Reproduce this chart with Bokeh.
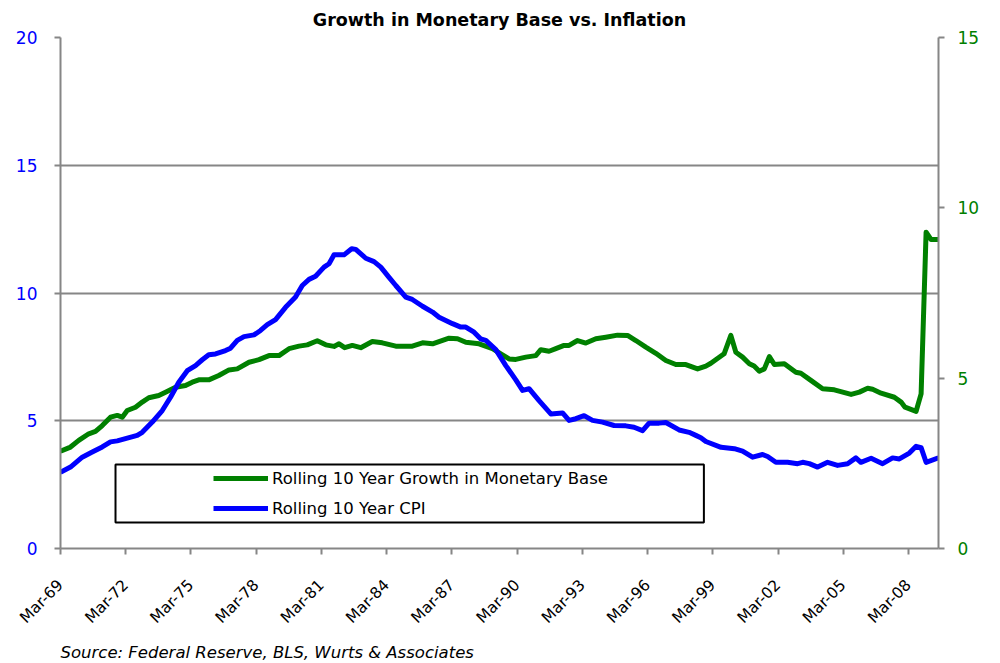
import math
from bokeh.plotting import figure
from bokeh.models import (Range1d, LinearAxis, FixedTicker, Legend, LegendItem,
                          BoxAnnotation, Title)
from bokeh.embed import file_html
from bokeh.resources import INLINE

# ---- data (decimal years; Mar-YY = YY.00) ----
mb_years = [1969.00, 1969.46, 1969.84, 1970.30, 1970.61, 1970.92, 1971.30, 1971.61, 1971.84,
            1972.07, 1972.45, 1972.76, 1973.06, 1973.52, 1973.83, 1974.29, 1974.75, 1975.06,
            1975.36, 1975.82, 1976.28, 1976.75, 1977.13, 1977.67, 1978.13, 1978.59, 1979.05,
            1979.51, 1979.97, 1980.35, 1980.81, 1981.20, 1981.58, 1981.81, 1982.07, 1982.42,
            1982.81, 1983.34, 1983.80, 1984.42, 1985.18, 1985.65, 1986.11, 1986.87, 1987.26,
            1987.64, 1988.25, 1988.87, 1989.25, 1989.63, 1989.94, 1990.40, 1990.86, 1991.09,
            1991.47, 1991.78, 1992.16, 1992.39, 1992.78, 1993.16, 1993.62, 1994.08, 1994.62,
            1995.08, 1995.46, 1995.92, 1996.38, 1996.84, 1997.30, 1997.76, 1998.30, 1998.68,
            1998.91, 1999.52, 1999.83, 2000.06, 2000.37, 2000.68, 2000.90, 2001.14, 2001.37,
            2001.60, 2001.83, 2002.29, 2002.82, 2003.05, 2003.51, 2004.05, 2004.59, 2005.36,
            2005.74, 2006.12, 2006.35, 2006.74, 2007.35, 2007.66, 2007.84, 2008.35, 2008.58,
            2008.81, 2009.04, 2009.38]
mb_growth = [3.81, 3.97, 4.23, 4.49, 4.58, 4.81, 5.14, 5.21, 5.14,
             5.40, 5.53, 5.73, 5.90, 5.99, 6.12, 6.31, 6.38, 6.51,
             6.60, 6.60, 6.77, 6.99, 7.03, 7.29, 7.39, 7.55, 7.55,
             7.82, 7.92, 7.97, 8.13, 7.97, 7.91, 8.01, 7.86, 7.95,
             7.86, 8.10, 8.05, 7.92, 7.92, 8.05, 8.01, 8.23, 8.21,
             8.07, 8.01, 7.82, 7.62, 7.42, 7.40, 7.49, 7.55, 7.78,
             7.72, 7.82, 7.95, 7.95, 8.14, 8.04, 8.21, 8.27, 8.35,
             8.34, 8.14, 7.88, 7.64, 7.36, 7.20, 7.20, 7.03, 7.14,
             7.25, 7.62, 8.34, 7.68, 7.49, 7.23, 7.14, 6.94, 7.03,
             7.51, 7.20, 7.23, 6.90, 6.86, 6.58, 6.25, 6.21, 6.03,
             6.12, 6.27, 6.23, 6.08, 5.92, 5.73, 5.53, 5.37, 6.05,
             12.38, 12.09, 12.09]

cpi_years = [1969.00, 1969.46, 1970.00, 1970.46, 1970.92, 1971.30, 1971.61, 1972.07, 1972.53,
             1972.76, 1973.22, 1973.68, 1974.06, 1974.44, 1974.83, 1975.21, 1975.52, 1975.82,
             1976.13, 1976.59, 1976.82, 1977.13, 1977.44, 1977.90, 1978.20, 1978.51, 1978.89,
             1979.35, 1979.81, 1980.12, 1980.43, 1980.73, 1981.12, 1981.35, 1981.58, 1982.04,
             1982.39, 1982.58, 1983.04, 1983.42, 1983.73, 1984.11, 1984.42, 1984.88, 1985.18,
             1985.65, 1986.11, 1986.41, 1987.03, 1987.41, 1987.64, 1988.02, 1988.33, 1988.56,
             1989.02, 1989.48, 1989.94, 1990.25, 1990.55, 1991.01, 1991.55, 1992.09, 1992.39,
             1992.70, 1993.08, 1993.47, 1993.93, 1994.46, 1995.00, 1995.38, 1995.77, 1996.07,
             1996.53, 1996.84, 1997.45, 1997.91, 1998.22, 1998.45, 1998.68, 1999.38, 1999.99,
             2000.37, 2000.83, 2001.29, 2001.52, 2001.90, 2002.44, 2002.90, 2003.13, 2003.44,
             2003.82, 2004.28, 2004.74, 2005.20, 2005.58, 2005.81, 2006.28, 2006.81, 2007.27,
             2007.58, 2008.04, 2008.35, 2008.58, 2008.81, 2009.38]
cpi_rate = [2.24, 2.39, 2.68, 2.83, 2.98, 3.13, 3.16, 3.24, 3.32,
            3.41, 3.71, 4.05, 4.44, 4.88, 5.22, 5.37, 5.54, 5.69,
            5.71, 5.81, 5.88, 6.11, 6.22, 6.27, 6.40, 6.57, 6.72,
            7.08, 7.38, 7.72, 7.90, 7.99, 8.26, 8.36, 8.62, 8.62,
            8.80, 8.78, 8.52, 8.42, 8.26, 7.96, 7.72, 7.38, 7.31,
            7.11, 6.94, 6.79, 6.60, 6.50, 6.50, 6.35, 6.15, 6.11,
            5.84, 5.37, 4.95, 4.64, 4.69, 4.34, 3.95, 3.98, 3.76,
            3.81, 3.90, 3.76, 3.71, 3.61, 3.60, 3.56, 3.46, 3.68,
            3.68, 3.70, 3.48, 3.41, 3.32, 3.25, 3.14, 2.97, 2.93,
            2.86, 2.68, 2.76, 2.70, 2.53, 2.53, 2.49, 2.53, 2.49,
            2.39, 2.53, 2.44, 2.49, 2.66, 2.53, 2.65, 2.49, 2.66,
            2.63, 2.80, 3.00, 2.96, 2.53, 2.66]

tick_years = [1969, 1972, 1975, 1978, 1981, 1984, 1987, 1990, 1993, 1996, 1999, 2002, 2005, 2008]
tick_labels = ["Mar-69", "Mar-72", "Mar-75", "Mar-78", "Mar-81", "Mar-84", "Mar-87",
               "Mar-90", "Mar-93", "Mar-96", "Mar-99", "Mar-02", "Mar-05", "Mar-08"]
left_ticks = [0, 5, 10, 15, 20]
right_ticks = [0, 5, 10, 15]

GREEN = "#008000"
BLUE = "#0000FF"
GRAY = "#868686"
FONT = "DejaVu Sans"

p = figure(frame_width=878, frame_height=511,
           min_border_left=60, min_border_right=62, min_border_top=37, min_border_bottom=112,
           x_range=Range1d(1969.0, 2009.38), y_range=Range1d(0, 20),
           output_backend="svg", toolbar_location=None,
           background_fill_color="white", border_fill_color="white")
p.outline_line_color = None
p.extra_y_ranges = {"cpi": Range1d(0, 15)}

# title
p.title.text = "Growth in Monetary Base vs. Inflation"
p.title.align = "center"
p.title.text_font = FONT
p.title.text_font_size = "17.5px"
p.title.text_font_style = "bold"
p.title.text_color = "black"
p.title.standoff = 15

# axes
xa = p.xaxis[0]
xa.ticker = FixedTicker(ticks=tick_years)
xa.major_label_overrides = {t: l for t, l in zip(tick_years, tick_labels)}
xa.major_label_orientation = math.pi / 4
xa.major_label_text_font = FONT
xa.major_label_text_font_size = "15.5px"
xa.major_label_text_color = "black"
xa.major_label_standoff = 28
xa.axis_line_color = GRAY
xa.axis_line_width = 2
xa.major_tick_line_color = GRAY
xa.major_tick_line_width = 2
xa.major_tick_out = 6
xa.major_tick_in = 0
xa.minor_tick_line_color = None

ya = p.yaxis[0]
ya.ticker = FixedTicker(ticks=left_ticks)
ya.major_label_text_font = FONT
ya.major_label_text_font_size = "17px"
ya.major_label_text_color = BLUE
ya.axis_line_color = GRAY
ya.axis_line_width = 2
ya.major_tick_line_color = GRAY
ya.major_tick_line_width = 2
ya.major_tick_out = 6
ya.major_tick_in = 0
ya.minor_tick_line_color = None
ya.major_label_standoff = 17

ra = LinearAxis(y_range_name="cpi", ticker=FixedTicker(ticks=right_ticks))
ra.major_label_text_font = FONT
ra.major_label_text_font_size = "17px"
ra.major_label_text_color = GREEN
ra.axis_line_color = GRAY
ra.axis_line_width = 2
ra.major_tick_line_color = GRAY
ra.major_tick_line_width = 2
ra.major_tick_out = 6
ra.major_tick_in = 0
ra.minor_tick_line_color = None
ra.major_label_standoff = 13
p.add_layout(ra, "right")

p.xgrid.grid_line_color = None
p.ygrid.ticker = FixedTicker(ticks=[5, 10, 15, 20])
p.ygrid.grid_line_color = GRAY
p.ygrid.grid_line_width = 2

# lines
g = p.line(mb_years, mb_growth, line_color=GREEN, line_width=5, line_join="round")
b = p.line(cpi_years, cpi_rate, line_color=BLUE, line_width=5, line_join="round",
           y_range_name="cpi")

# legend box
box = BoxAnnotation(left=1971.53, right=1998.59, bottom=1.02, top=3.29,
                    fill_alpha=0, line_color="black", line_alpha=1.0, line_width=2)
p.add_layout(box)

legend = Legend(items=[LegendItem(label="Rolling 10 Year Growth in Monetary Base", renderers=[g]),
                       LegendItem(label="Rolling 10 Year CPI", renderers=[b])],
                location=(153, 30), padding=0, spacing=10, glyph_width=55, glyph_height=20,
                label_height=20, label_standoff=4, border_line_alpha=0,
                background_fill_alpha=0, label_text_font=FONT, label_text_font_size="16.5px",
                label_text_color="black", margin=0)
p.add_layout(legend, "center")

src = Title(text="Source: Federal Reserve, BLS, Wurts & Associates", align="left",
            text_font=FONT, text_font_size="16.5px", text_font_style="italic",
            text_color="black", standoff=8)
p.add_layout(src, "below")

open("out.html", "w").write(file_html(p, INLINE))
